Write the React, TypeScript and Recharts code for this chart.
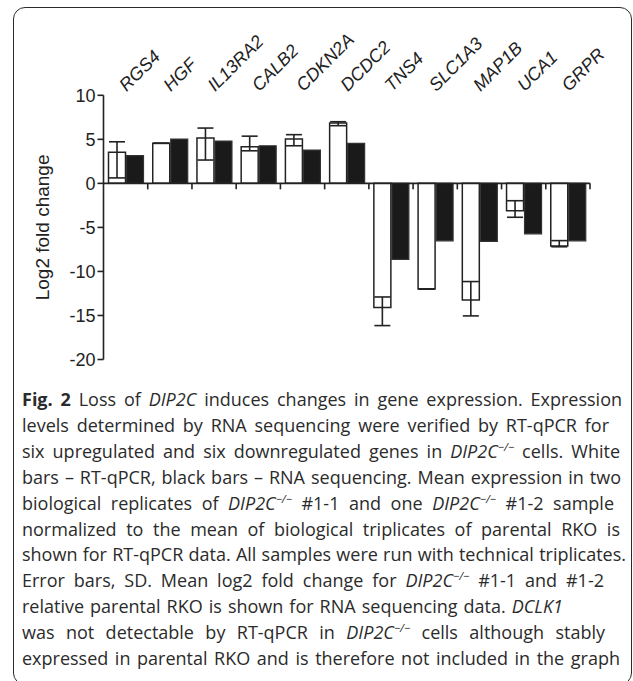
import React from 'react'
import { BarChart, Bar, XAxis, YAxis, ErrorBar, ReferenceLine, Label } from 'recharts'

const genes = ['RGS4', 'HGF', 'IL13RA2', 'CALB2', 'CDKN2A', 'DCDC2', 'TNS4', 'SLC1A3', 'MAP1B', 'UCA1', 'GRPR']
// white bars: RT-qPCR (mean, SD below / above)
const qpcr = [3.52, 4.55, 5.15, 4.16, 5.03, 6.85, -14.1, -12.0, -13.25, -3.1, -7.1]
const qpcrErrDown = [2.9, 0, 2.5, 0.46, 0.76, 0.3, 2.05, 0, 1.8, 0.75, 0.1]
const qpcrErrUp = [1.2, 0, 1.13, 1.2, 0.5, 0.15, 1.2, 0, 2.1, 1.13, 0.6]
// black bars: RNA sequencing
const rnaSeq = [3.14, 5.03, 4.8, 4.27, 3.78, 4.55, -8.64, -6.52, -6.59, -5.73, -6.52]
const yTicks = [-20, -15, -10, -5, 0, 5, 10]

const data = genes.map((gene, i) => ({
  gene,
  qpcr: qpcr[i],
  err: [qpcrErrDown[i], qpcrErrUp[i]],
  rnaSeq: rnaSeq[i],
}))

const ink = '#222'
const axisFont = '"Liberation Sans", Arial, Helvetica, sans-serif'

const GeneTick = (props: any) => {
  const { x, y, payload } = props
  const tx = x + 1
  return (
    <text
      x={tx}
      y={y}
      transform={`rotate(-45, ${tx}, ${y})`}
      fontStyle="italic"
      fontSize={18}
      fontFamily={axisFont}
      fill={ink}
    >
      {payload.value}
    </text>
  )
}

// zero line with tick marks between the categories
const ZeroAxis = (props: any) => {
  const left = Math.min(props.x1, props.x2)
  const right = Math.max(props.x1, props.x2)
  const y = props.y1
  const step = (right - left) / genes.length
  return (
    <g>
      <line x1={left} y1={y} x2={right} y2={y} stroke={ink} strokeWidth={1.6} />
      {genes.map((g, i) => (
        <line
          key={g}
          x1={left + step * (i + 1)}
          x2={left + step * (i + 1)}
          y1={y}
          y2={y + 6}
          stroke={ink}
          strokeWidth={1.6}
        />
      ))}
    </g>
  )
}

const sup = <sup style={{ fontSize: '0.62em', lineHeight: 0 }}>−/−</sup>
const Dip = () => (
  <i>
    DIP2C{sup}
  </i>
)

const captionLines: React.ReactNode[] = [
  <>
    <b>Fig. 2</b> Loss of <i>DIP2C</i> induces changes in gene expression. Expression
  </>,
  <>levels determined by RNA sequencing were verified by RT-qPCR for</>,
  <>
    six upregulated and six downregulated genes in <Dip /> cells. White
  </>,
  <>bars – RT-qPCR, black bars – RNA sequencing. Mean expression in two</>,
  <>
    biological replicates of <Dip /> #1-1 and one <Dip /> #1-2 sample
  </>,
  <>normalized to the mean of biological triplicates of parental RKO is</>,
  <>shown for RT-qPCR data. All samples were run with technical triplicates.</>,
  <>
    Error bars, SD. Mean log2 fold change for <Dip /> #1-1 and #1-2
  </>,
  <>
    relative parental RKO is shown for RNA sequencing data. <i>DCLK1</i>
  </>,
  <>
    was not detectable by RT-qPCR in <Dip /> cells although stably
  </>,
  <>expressed in parental RKO and is therefore not included in the graph</>,
]
// line lengths of the caption as set in the figure
const captionWidths = [600, 587, 598, 599, 592, 598, 604, 582, 541, 583, 598]

export default function App() {
  return (
    <div
      style={{
        position: 'absolute',
        left: 0,
        top: 0,
        width: 633,
        height: 681,
        overflow: 'hidden',
        background: '#fff',
      }}
    >
      <div
        style={{
          position: 'absolute',
          left: 13,
          top: 7,
          width: 617,
          height: 676,
          border: '1.5px solid #2a2a2a',
          borderRadius: 12,
        }}
      />
      <div style={{ position: 'absolute', left: 0, top: 0 }}>
        <BarChart
          width={633}
          height={370}
          data={data}
          margin={{ top: 35.3, right: 43, bottom: 10.5, left: 33.5 }}
          barSize={17}
          barGap={1}
        >
          <XAxis
            dataKey="gene"
            orientation="top"
            height={60}
            axisLine={false}
            tickLine={false}
            tickSize={0}
            tickMargin={3}
            interval={0}
            tick={<GeneTick />}
          />
          <YAxis
            domain={[-20, 10]}
            ticks={yTicks}
            width={70}
            allowDataOverflow
            tickSize={6}
            tickMargin={2}
            axisLine={{ stroke: ink, strokeWidth: 1.6 }}
            tickLine={{ stroke: ink, strokeWidth: 1.6 }}
            tick={{ fill: ink, fontSize: 18, fontFamily: axisFont }}
          >
            <Label
              value="Log2 fold change"
              angle={-90}
              position="insideLeft"
              offset={9}
              style={{ textAnchor: 'middle', fontSize: 19, fontFamily: axisFont, fill: ink }}
            />
          </YAxis>
          <Bar dataKey="qpcr" fill="#fff" stroke={ink} strokeWidth={1.5} isAnimationActive={false}>
            <ErrorBar dataKey="err" width={8} stroke={ink} strokeWidth={1.6} direction="y" />
          </Bar>
          <Bar dataKey="rnaSeq" fill="#1a1a1a" stroke="#333" strokeWidth={1.2} isAnimationActive={false} />
          <ReferenceLine y={0} shape={<ZeroAxis />} />
        </BarChart>
      </div>
      <div
        style={{
          position: 'absolute',
          left: 22,
          top: 387,
          fontFamily: '"Open Sans", "Noto Sans", sans-serif',
          fontSize: 18,
          lineHeight: '25.9px',
          color: '#2b2b2b',
          whiteSpace: 'nowrap',
        }}
      >
        {captionLines.map((line, i) => (
          <div
            key={i}
            style={{ width: captionWidths[i], textAlign: 'justify', textAlignLast: 'justify' }}
          >
            {line}
          </div>
        ))}
      </div>
    </div>
  )
}
